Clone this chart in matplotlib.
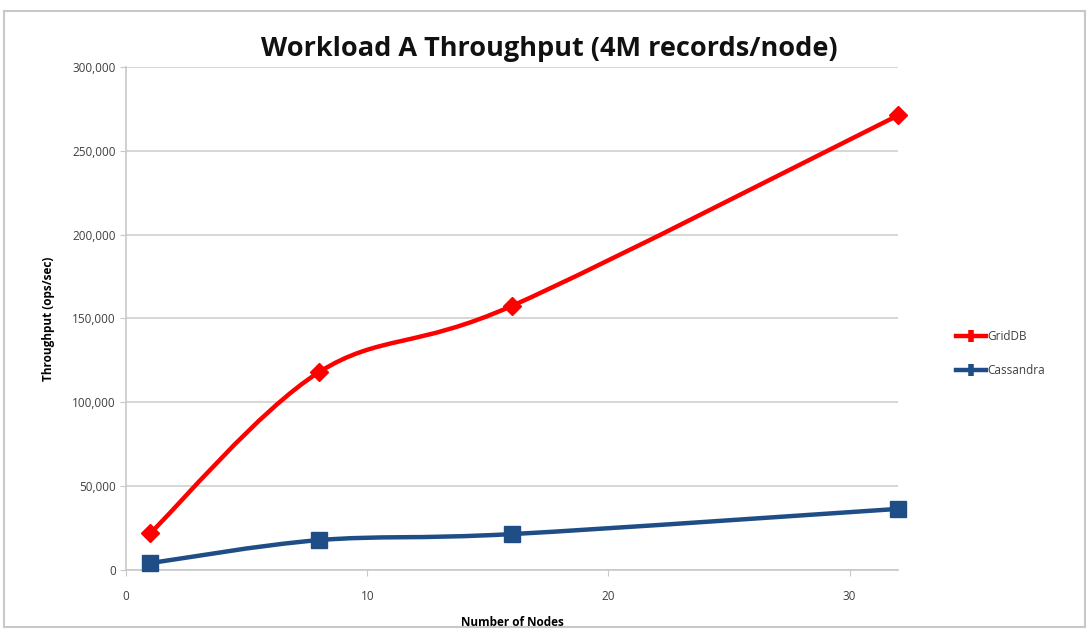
import numpy as np
import matplotlib.pyplot as plt
from matplotlib.path import Path
from matplotlib.patches import PathPatch, Rectangle

# data
nodes = [1, 8, 16, 32]
griddb = [22000, 118000, 157500, 271000]
cassandra = [4200, 17900, 21500, 36500]

plt.rcParams['font.family'] = ['Open Sans', 'DejaVu Sans']


def smooth_path(x, y):
    # Excel-style smoothed line: cubic Bezier segments through every point
    p = np.column_stack([x, y]).astype(float)
    n = len(p)
    verts = [p[0]]
    codes = [Path.MOVETO]
    for i in range(n - 1):
        p0 = p[i - 1] if i > 0 else p[i]
        p3 = p[i + 2] if i + 2 < n else p[i + 1]
        c1 = p[i] + (p[i + 1] - p0) / 6
        c2 = p[i + 1] - (p3 - p[i]) / 6
        verts += [c1, c2, p[i + 1]]
        codes += [Path.CURVE4] * 3
    return Path(verts, codes)


fig = plt.figure(figsize=(10.87, 6.3), dpi=100)
fig.patches.append(Rectangle((0.004, 0.005), 0.994, 0.978, transform=fig.transFigure,
                             fill=False, edgecolor='#c8c8c8', linewidth=1.5))
ax = fig.add_axes([0.116, 0.095, 0.71, 0.799])

series = [
    ('GridDB', griddb, '#ff0000', 'D', 9),
    ('Cassandra', cassandra, '#1f4e86', 's', 11),
]
for name, vals, col, mk, ms in series:
    ax.add_patch(PathPatch(smooth_path(nodes, vals), fill=False, edgecolor=col,
                           linewidth=3.2, capstyle='round', joinstyle='round', zorder=3))
    ax.plot(nodes, vals, linestyle='none', marker=mk, markersize=ms, color=col,
            zorder=4, clip_on=False)
    ax.plot([], [], color=col, linewidth=3.2, marker='|', markersize=9,
            markeredgewidth=4, label=name)

ax.set_xlim(0, 32)
ax.set_ylim(0, 300000)
ax.set_xticks([0, 10, 20, 30])
ax.set_yticks(np.arange(0, 300001, 50000))
ax.yaxis.set_major_formatter(plt.FuncFormatter(lambda v, _: f'{int(v):,}'))
ax.grid(axis='y', color='#d0d0d0', linewidth=1.2)
ax.set_axisbelow(True)
for s in ['top', 'right']:
    ax.spines[s].set_visible(False)
for s in ['left', 'bottom']:
    ax.spines[s].set_color('#c8c8c8')
    ax.spines[s].set_linewidth(1.2)
ax.tick_params(axis='both', colors='#c8c8c8', labelcolor='#404040', labelsize=8.5,
               length=4, direction='out')
ax.tick_params(axis='x', pad=10)

fig.text(0.505, 0.923, 'Workload A Throughput (4M records/node)', ha='center', va='center',
         fontsize=19.5, fontweight='bold', color='#111111')
ax.set_xlabel('Number of Nodes', fontsize=8.5, fontweight='bold', labelpad=10)
ax.set_ylabel('Throughput (ops/sec)', fontsize=8.5, fontweight='bold', labelpad=12)

ax.legend(loc='center left', bbox_to_anchor=(1.075, 0.43), frameon=False, fontsize=8.5,
          handlelength=2.6, handletextpad=0.1, labelspacing=1.8, labelcolor='#404040',
          borderpad=0, borderaxespad=0)

plt.savefig('out.png', dpi=100)
